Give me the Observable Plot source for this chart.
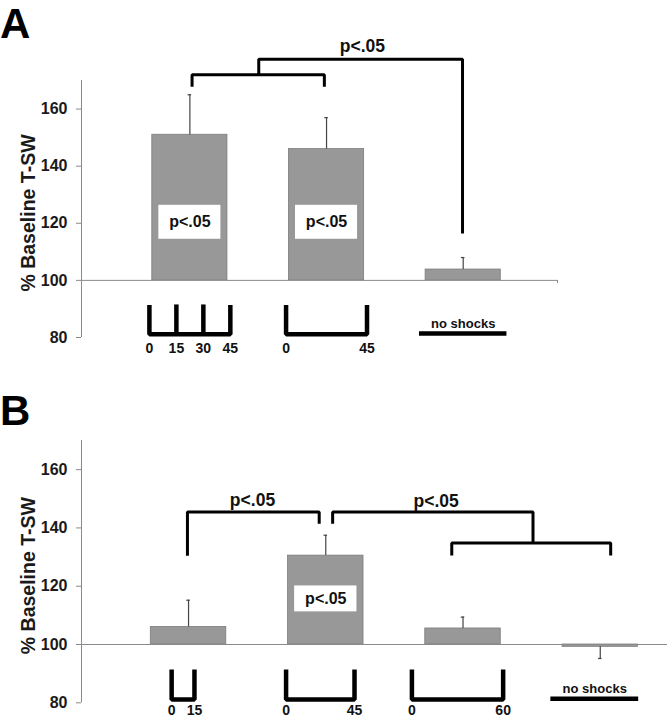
<!DOCTYPE html>
<html>
<head>
<meta charset="utf-8">
<script src="https://cdn.jsdelivr.net/npm/d3@7"></script>
<script src="https://cdn.jsdelivr.net/npm/@observablehq/plot@0.6"></script>
<style>
  body { margin: 0; background: #fff; }
  #wrap { position: relative; width: 668px; height: 720px; font-family: "Liberation Sans", Arial, sans-serif; overflow: hidden; }
  .panel { position: absolute; left: 0; }
  .letter { position: absolute; left: 0; font-weight: bold; font-size: 42px; line-height: 1; color: #000; }
</style>
</head>
<body>
<div id="wrap">
  <div id="pa" class="panel" style="top:0"></div>
  <div id="pb" class="panel" style="top:360px"></div>
  <div class="letter" style="top:2.5px">A</div>
  <div class="letter" style="top:390px">B</div>
</div>
<script>
// ---------- shared ----------
const yTicks = [80, 100, 120, 140, 160];
const yLabel = "% Baseline T-SW";
const sigText = "p<.05";
const noShockText = "no shocks";

// ---------- Panel A ----------
const catsA = ["0/15/30/45", "0/45", "no shocks"];
const meanA = [151, 146, 103.8];
const errA = [14, 11, 4.2];
const schedA = [[0, 15, 30, 45], [0, 45], []];
const sigBoxA = [[114.4, 126.3], [114.4, 126.3], null];
const bracketsA = [
  [[1.016, 167.8], [1.016, 172.0], [1.984, 172.0], [1.984, 167.8]],
  [[1.504, 172.0], [1.504, 177.4], [2.995, 177.4], [2.995, 116.4]]
];
const bracketLabelsA = [[2.262, 181.8]];

// ---------- Panel B ----------
const catsB = ["0/15", "0/45", "0/60", "no shocks"];
const meanB = [106, 130.5, 105.5, 99.2];
const errB = [9.2, 7.0, 3.9, 4.0];
const schedB = [[0, 15], [0, 45], [0, 60], []];
const sigBoxB = [null, [111.2, 120.1], null, null];
const bracketsB = [
  [[0.992, 130.45], [0.992, 145.5], [1.952, 145.5], [1.952, 141.4]],
  [[2.050, 141.4], [2.050, 145.5], [3.510, 145.5], [3.510, 134.8]],
  [[2.918, 130.55], [2.918, 134.8], [4.076, 134.8], [4.076, 130.55]]
];
const bracketLabelsB = [[1.466, 149.4], [2.804, 149.2]];

const FONT = "'Liberation Sans', Arial, sans-serif";

function buildPanel(o) {
  const bars = o.cats.map((c, i) => {
    const mean = o.means[i], err = o.errs[i];
    return {cat: c, x: i + 1, mean, end: mean >= 100 ? mean + err : mean - err};
  });
  const boxes = o.boxes.map((b, i) => b && {x: i + 1, lo: b[0], hi: b[1]}).filter(Boolean);
  const segs = o.brackets.flatMap((pts, k) => pts.map(([x, y]) => ({k, x, y})));
  const labels = o.bracketLabels.map(([x, y]) => ({x, y}));

  const TOP = 91.4, BOT = 81.1, LAB = o.lab;
  const us = [], inner = [], tickLabels = [], none = [];
  o.sched.forEach((ts, i) => {
    const c = i + 1 + o.shift;
    if (!ts.length) { none.push({x1: c - 0.32, x2: c + 0.32, cx: c}); return; }
    const span = ts[ts.length - 1];
    const pos = t => c + (t - span / 2) * o.perMin;
    [[0, TOP], [0, BOT], [span, BOT], [span, TOP]].forEach(([t, y]) => us.push({k: i, x: pos(t), y}));
    ts.slice(1, -1).forEach(t => inner.push({x: pos(t)}));
    ts.forEach(t => tickLabels.push({x: pos(t), t: String(t)}));
  });

  return Plot.plot({
    width: 668,
    height: 360,
    marginLeft: 81,
    marginRight: o.mr,
    marginTop: 80,
    marginBottom: o.mb,
    style: {fontFamily: FONT, fontSize: "16px", fontWeight: "bold", background: "white", overflow: "visible", color: "#1a1a1a"},
    x: {domain: o.xd, axis: null},
    y: {domain: [80, 170], axis: null, label: null},
    marks: [
      Plot.ruleX([o.xd[0]], {y1: 80, y2: 170, stroke: "#8a8a8a", strokeWidth: 1}),
      Plot.axisY(yTicks, {tickSize: 5, tickPadding: 9, stroke: "#8a8a8a", fill: "#1a1a1a",
        fontSize: 16, fontWeight: "bold", label: null}),
      Plot.text([yLabel], {text: d => d, frameAnchor: "left", textAnchor: "middle", lineAnchor: "middle",
        rotate: -90, dx: -53, dy: 4, fontSize: 19.5, fontWeight: "bold", fill: "#1a1a1a"}),
      Plot.rect(bars, {x1: d => d.x - 0.275, x2: d => d.x + 0.275, y1: 100, y2: "mean",
        fill: "#989898", stroke: "#7c7c7c", strokeWidth: 0.8}),
      Plot.ruleY([100], {x1: o.xd[0], x2: o.xd[1], stroke: "#8a8a8a", strokeWidth: 1}),
      Plot.ruleX(o.endTick ? [o.xd[1]] : [], {y1: 100, y2: 98.9, stroke: "#8a8a8a", strokeWidth: 1}),
      Plot.ruleX(bars, {x: "x", y1: "mean", y2: "end", stroke: "#444", strokeWidth: 1.2}),
      Plot.ruleY(bars, {y: "end", x1: d => d.x - 0.013, x2: d => d.x + 0.013, stroke: "#444", strokeWidth: 1.2}),
      Plot.rect(boxes, {x1: d => d.x - 0.227, x2: d => d.x + 0.227, y1: "lo", y2: "hi", fill: "white"}),
      Plot.text(boxes, {x: "x", y: d => (d.lo + d.hi) / 2, text: () => sigText,
        fontSize: 16, fontWeight: "bold", fill: "#111"}),
      Plot.line(segs, {x: "x", y: "y", z: "k", stroke: "#000", strokeWidth: 3,
        strokeLinejoin: "miter", strokeLinecap: "butt"}),
      Plot.text(labels, {x: "x", y: "y", text: () => sigText, fontSize: 17.5, fontWeight: "bold", fill: "#111"}),
      Plot.line(us, {x: "x", y: "y", z: "k", stroke: "#000", strokeWidth: 4.5,
        strokeLinejoin: "miter", strokeLinecap: "butt"}),
      Plot.ruleX(inner, {x: "x", y1: BOT, y2: TOP, stroke: "#000", strokeWidth: 4.5}),
      Plot.text(tickLabels, {x: "x", y: LAB, text: "t", fontSize: 14, fontWeight: "bold", fill: "#111"}),
      Plot.ruleY(none, {x1: "x1", x2: "x2", y: 81.4, stroke: "#000", strokeWidth: 4.5}),
      Plot.text(none, {x: "cx", y: 84.8, text: () => noShockText, fontSize: 13, fontWeight: "bold", fill: "#111"})
    ]
  });
}

document.getElementById("pa").append(buildPanel({
  cats: catsA, means: meanA, errs: errA, sched: schedA, boxes: sigBoxA,
  brackets: bracketsA, bracketLabels: bracketLabelsA,
  xd: [0.207, 3.69], mr: 111, mb: 23, perMin: 0.01316, shift: 0, lab: 76.2, endTick: true
}));
document.getElementById("pb").append(buildPanel({
  cats: catsB, means: meanB, errs: errB, sched: schedB, boxes: sigBoxB,
  brackets: bracketsB, bracketLabels: bracketLabelsB,
  xd: [0.22, 4.49], mr: 1, mb: 17.7, perMin: 0.01108, shift: -0.04, lab: 77.2, endTick: false
}));
</script>
</body>
</html>
